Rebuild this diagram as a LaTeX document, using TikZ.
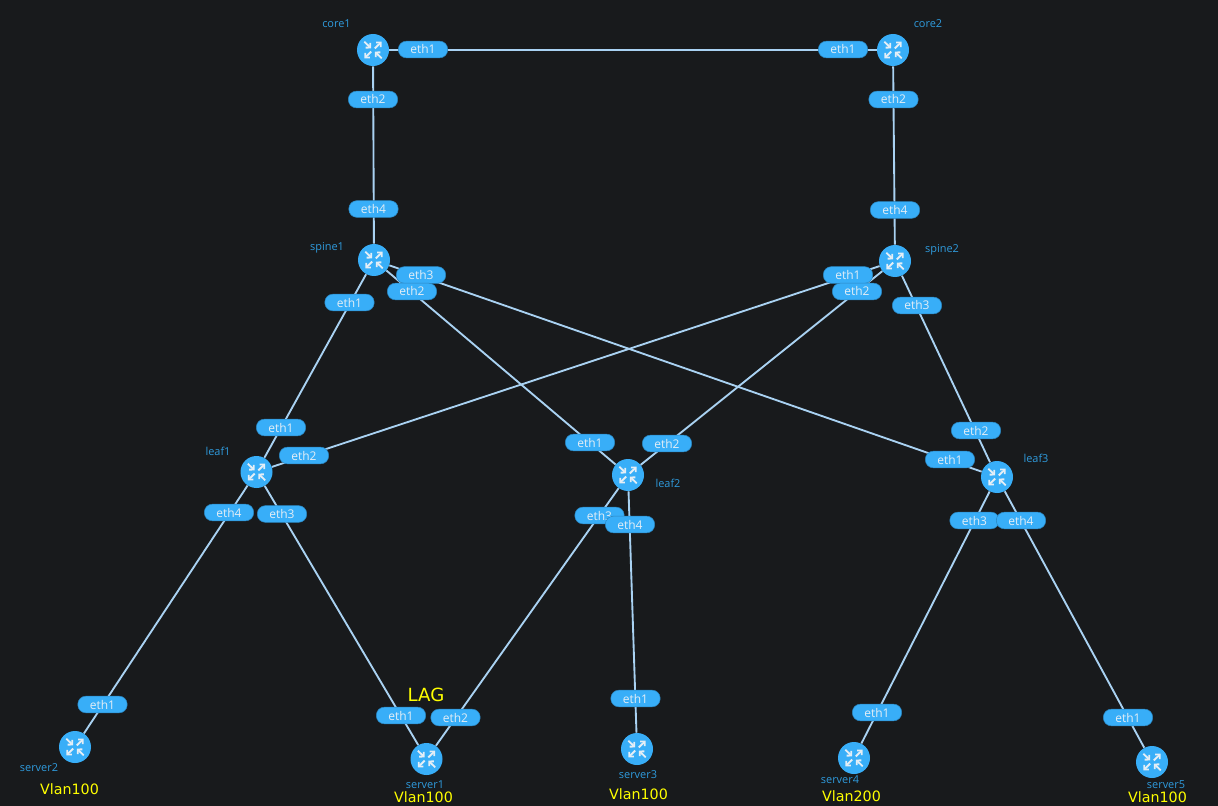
\documentclass[tikz,border=0pt]{standalone}
\usepackage{fontspec}
\setmainfont{Open Sans}
\newfontfamily\vlanfont{DejaVu Sans}
\usetikzlibrary{arrows.meta}
\definecolor{bgdark}{HTML}{181A1C}
\definecolor{routerblue}{HTML}{38AEF8}
\definecolor{linkblue}{HTML}{A9D2F2}
\definecolor{portedge}{HTML}{2A86C0}
\definecolor{hostblue}{HTML}{2F9BDD}
\definecolor{icongrey}{HTML}{E4EEF6}
\definecolor{vlanyellow}{HTML}{FFFF00}
\tikzset{
    router/.style={circle, fill=routerblue, minimum size=24pt, inner sep=0pt},
    port/.style={rectangle, rounded corners=6pt, fill=routerblue, draw=portedge, line width=0.4pt,
        minimum width=37pt, minimum height=12.5pt, inner sep=0pt, text=icongrey, font=\fontsize{9}{10}\selectfont},
    hostname/.style={text=hostblue, font=\fontsize{8.2}{9}\selectfont, inner sep=0pt},
    vlan/.style={text=vlanyellow, font=\vlanfont\fontsize{10.7}{12}\selectfont, inner sep=0pt},
    link/.style={draw=linkblue, line width=1.4pt},
    routericon/.pic={
        \draw[icongrey, line width=1.4pt, -{Straight Barb[length=2.4pt,width=5pt]}] (-8.7,-8.3) -- (-1.8,-1.6);
        \draw[icongrey, line width=1.4pt, -{Straight Barb[length=2.4pt,width=5pt]}] (1.8,-1.6) -- (8.7,-8.3);
        \draw[icongrey, line width=1.4pt, -{Straight Barb[length=2.4pt,width=5pt]}] (-1.8,1.6) -- (-8.7,8.3);
        \draw[icongrey, line width=1.4pt, -{Straight Barb[length=2.4pt,width=5pt]}] (8.7,8.3) -- (1.8,1.6);
    }
}

\begin{document}
\begin{tikzpicture}[x=0.75pt, y=-0.75pt]
    \fill [bgdark] (0,0) rectangle (1218,806);
    \useasboundingbox (0,0) rectangle (1218,806);

    % Routers
    \foreach \name/\x/\y in {core1/373/50, core2/893/50, spine1/374/260, spine2/895/261, leaf1/256.5/472, leaf2/628/475, leaf3/997/477, server1/426.5/759, server2/75/747, server3/637/749, server4/854/758, server5/1152/762}
        \node [router] (\name) at (\x,\y) {};

    % Links
    \foreach \from/\to in {core1/core2, core1/spine1, core2/spine2, spine1/leaf1, spine1/leaf2, spine1/leaf3, spine2/leaf1, spine2/leaf2, spine2/leaf3, leaf1/server2, leaf1/server1, leaf2/server1, leaf2/server3, leaf3/server4, leaf3/server5}
        \draw [link] (\from) -- (\to);

    % Router icons
    \foreach \name in {core1, core2, spine1, spine2, leaf1, leaf2, leaf3, server1, server2, server3, server4, server5}
        \pic at (\name) {routericon};

    % Port labels
    \foreach \name/\x/\y/\label in {coreAa/423/49.5/eth1, coreAb/373/99.5/eth2, coreBa/843/49.5/eth1, coreBb/893.5/99.5/eth2, spineAd/373.5/209/eth4, spineBd/895/210/eth4, spineAa/349.5/302.5/eth1, spineAc/421/275/eth3, spineAb/412/291.5/eth2, spineBa/848/275/eth1, spineBb/857/291.5/eth2, spineBc/917/305.5/eth3, leafAa/281/427.5/eth1, leafAb/304/455.5/eth2, leafAd/229/512.5/eth4, leafAc/282/514/eth3, leafBa/590/442.5/eth1, leafBb/667/443.5/eth2, leafBc/599.5/515.5/eth3, leafBd/630/524.5/eth4, leafCb/976/430.5/eth2, leafCa/950/459.5/eth1, leafCc/974.5/520.5/eth3, leafCd/1021/520.5/eth4, serverBa/102.5/704.5/eth1, serverAa/401/715.5/eth1, serverAb/455.5/717.5/eth2, serverCa/635.5/698.5/eth1, serverDa/877/712.5/eth1, serverEa/1128/717.5/eth1}
        \node [port] (\name) at (\x,\y) {\label};

    % Host names
    \foreach \name/\x/\y in {core1/336.5/24, core2/928/24, spine1/327/248, spine2/942/249.5, leaf1/218/451.5, leaf2/668/483.5, leaf3/1036/458.5, server2/39/767.5, server1/425/784.5, server3/638/774.5, server4/840/779.5, server5/1166/784.5}
        \node [hostname] (\name-text) at (\x,\y) {\name};

    % Vlan tags
    \node [vlan] (vlanA) at (69.5,789.5) {Vlan100};
    \node [vlan] (vlanB) at (423.5,797.5) {Vlan100};
    \node [vlan] (vlanC) at (638.5,794.5) {Vlan100};
    \node [vlan] (vlanD) at (851.5,796.5) {Vlan200};
    \node [vlan] (vlanE) at (1157.5,797.5) {Vlan100};
    \node [vlan, font=\vlanfont\fontsize{13.6}{15}\selectfont] (lag) at (426,695) {LAG};
\end{tikzpicture}
\end{document}
